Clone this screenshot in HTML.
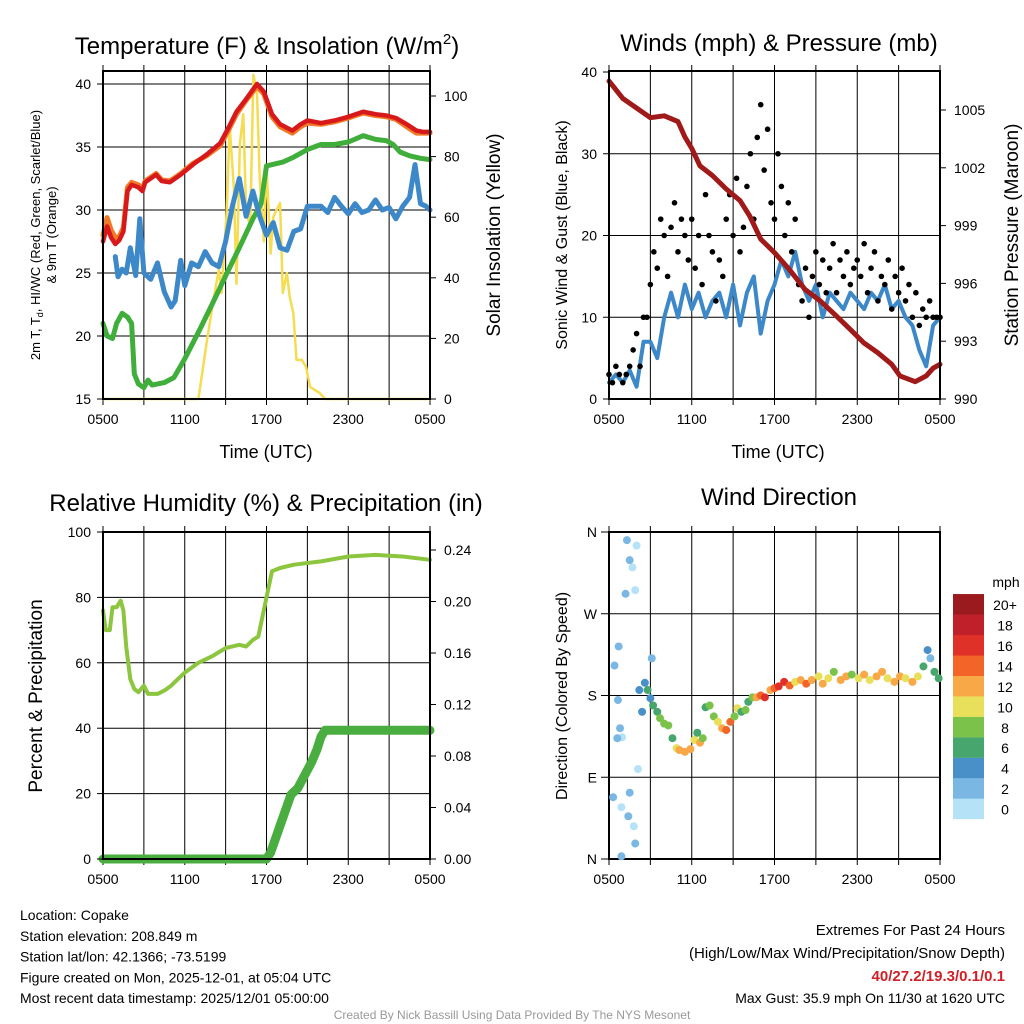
<!DOCTYPE html>
<html><head><meta charset="utf-8">
<style>
html,body{margin:0;padding:0;background:#fff;}
svg{display:block;font-family:"Liberation Sans",sans-serif;}
</style></head>
<body>
<svg id="s" width="1024" height="1024" viewBox="0 0 1024 1024" xmlns="http://www.w3.org/2000/svg"></svg>
<script>
// ---------- DATA ----------
const hourTicks = ["0500","1100","1700","2300","0500"];
// Panel 1: temperature (hours since 0500)
const redT = [0,0.3,0.6,0.9,1.2,1.5,1.8,2.1,2.6,2.9,3.1,3.9,4.3,4.9,5.7,6.6,7.6,8.6,9.2,9.8,10.5,11.3,11.8,12.4,13,13.9,14.5,15,16,17,18,19.1,20,20.8,21.5,22.3,23,23.5,24];
const redV = [27.5,28.7,27.8,27.3,27.6,28.3,31.5,32,31.8,31.5,32.2,32.8,32.3,32.2,32.8,33.6,34.4,35.3,36.5,37.8,38.8,40,39.4,37.6,36.8,36.3,36.8,37.1,36.9,37.1,37.4,37.8,37.6,37.5,37.3,36.8,36.3,36.2,36.2];
const orangeV = [28,29.4,28.4,27.8,27.9,28.6,31.8,32.2,32,31.7,32.3,32.9,32.4,32.3,32.9,33.7,34.3,35.1,36.3,37.6,38.7,39.8,39.2,37.4,36.6,36.1,36.6,36.9,36.8,37,37.3,37.7,37.5,37.4,37.2,36.6,36.1,36.1,36.1];
const greenT = [0,0.3,0.7,1.0,1.4,1.8,2.1,2.3,2.6,3.0,3.3,3.6,4.5,5.2,6,7.1,8,9.1,10,11,11.6,12.0,13.2,14,15,16,17,18,19.1,20,20.8,21.3,21.8,22.5,23.3,24];
const greenV = [21,20,19.8,21,21.8,21.5,21,17,16.2,15.9,16.5,16.1,16.3,16.7,18.2,20.5,22.5,25,27,29.3,30.5,33.5,33.8,34.2,34.8,35.2,35.2,35.4,35.9,35.6,35.5,35.2,34.6,34.3,34.1,34];
const blueT = [0.9,1.1,1.4,1.7,2,2.4,2.7,3,3.5,4,4.5,5,5.3,5.7,6,6.5,7,7.5,8,8.5,9,9.5,10,10.5,11,11.5,12,12.5,13,13.5,14,14.5,15,16,16.5,17,17.5,18,18.5,19,19.5,20,20.5,21,21.5,22,22.5,22.9,23.3,23.7,24];
const blueV = [26.3,24.7,25.3,25,27,24.8,29.3,25,24.5,25.8,23.5,22.3,22.8,26,24,25.8,25.5,26.7,25.8,25.5,27.5,30.3,32.5,29.5,31.5,29.5,28,29,27,26.8,28.3,28.5,30.3,30.3,29.8,31,30.3,29.7,30.5,29.8,30,30.8,30,30.2,29.3,30.3,31,33.6,30.5,30.3,30];
const solarT = [0,7.0,7.6,8.1,8.5,8.7,9.08,9.3,9.6,9.8,10.05,10.3,10.5,10.8,11.04,11.3,11.5,11.8,12.0,12.3,12.5,12.7,13.0,13.2,13.5,13.7,13.97,14.2,14.6,14.9,15.2,15.9,16.3,24];
const solarV = [0,0,18.5,32.7,42.6,35,62,90,70,38,84.5,94,62,57,107,101,73,52,76.6,48,60,62,64.7,35,41.6,33.7,28.4,12.9,12.9,10.6,4,2,0,0];
// Panel 2: wind & pressure
const presT = [0,1,2,3,4,5,5.5,6,6.6,7.5,8.5,9.5,10.2,11,12,13.1,14.2,15.3,16.5,17.5,18.5,19.5,20.5,21.1,22.2,23,23.5,24];
const presV = [1006.5,1005.6,1005.1,1004.6,1004.7,1004.4,1003.6,1003,1002.1,1001.6,1000.9,1000.3,999.5,998.3,997.6,996.7,995.7,995.1,994.3,993.6,992.9,992.4,991.8,991.2,990.9,991.2,991.6,991.8];
const windT = [0,0.5,1,1.5,2,2.5,3,3.5,4,4.5,5,5.5,6,6.5,7,7.5,8,8.5,9,9.5,10,10.5,11,11.5,12,12.5,13,13.5,14,14.5,15,15.5,16,16.5,17,17.5,18,18.5,19,19.5,20,20.5,21,21.5,22,22.5,23,23.5,24];
const windV = [2,3,2,3.5,1.5,7,7,5,10,13,10,14,11,13,10,12,13,10,14,9,13,15,8,12,14,17,15,18,14,12,14,10,13,12,11,13,12,11,13,12,14,11,12,10,9,6,4,9,10];
const gustV = [3,2,4,3,2,3,4,6,8,4,10,10,14,18,16,22,20,15,21,24,18,22,20,17,22,16,20,14,25,20,18,12,17,15,22,25,20,27,18,21,26,30,22,32,36,28,33,24,22,30,26,20,24,18,22,14,12,16,10,15,18,14,17,13,16,19,13,17,15,18,14,16,17,15,19,13,16,18,12,15,14,17,11,15,13,16,12,14,10,13,9,11,10,12,10,10,10];
// Panel 3: RH & precip
const rhT = [0,0.2,0.5,0.7,1,1.3,1.5,1.7,2,2.3,2.6,3,3.3,4,4.5,5,5.5,6,7,8,9,10,10.5,11,11.4,12,12.4,13,14,16,18,20,22,24];
const rhV = [76,70,70,77,77,79,76,65,55,52,51,53,50.5,50.5,51.5,53,55,57,60,62,64.5,65.5,65,67,68,80,88,89,90,91,92.5,93,92.5,91.5];
const prT = [0,12,12.3,12.8,13.3,13.8,14.3,14.8,15.3,15.7,16,16.3,24];
const prV = [0,0,0.005,0.02,0.035,0.05,0.055,0.065,0.075,0.085,0.095,0.1,0.1];
// Panel 4: wind direction [hour, degrees, mph]
const dirT = [1.3,2.0,1.5,1.7,1.2,1.9,0.7,0.4,0.65,0.8,0.95,0.6,2.1,0.3,1.5,0.9,1.4,1.8,1.9,0.9,3.1,2.2,2.6,2.8,3.0,3.2,2.4,3.5,3.7,4.0,4.3,4.6,4.9,5.1,5.5,5.9,6.2,6.4,6.6,6.8,7.0,7.3,7.6,7.9,8.2,8.5,8.8,9.1,9.3,9.6,9.9,10.1,10.4,10.7,11.0,11.3,11.7,12.0,12.3,12.7,13.1,13.5,13.9,14.3,14.7,15.2,15.5,15.9,16.3,16.8,17.2,17.6,18.1,18.5,18.9,19.4,19.8,20.2,20.7,21.1,21.5,22.0,22.4,22.8,23.1,23.3,23.6,23.9];
const dirV = [351,345,329,321,292,296,234,213,175,144,134,133,99,68,73,57,47,36,17,3,221,186,194,186,177,169,162,162,155,149,147,133,122,120,118,121,131,139,128,133,167,169,157,151,144,142,151,157,166,162,164,173,178,178,180,178,186,188,190,195,191,195,197,193,197,201,193,199,206,197,201,203,199,203,197,201,206,199,195,201,199,195,201,212,230,221,206,199];
const dirS = [3,1,3,1,3,1,3,2,3,2,1,3,1,3,3,1,3,1,3,3,3,4,5,6,5,6,4,7,8,9,8,6,11,12,13,12,11,7,12,8,7,8,9,10,12,14,15,8,10,7,8,7,8,12,14,16,13,15,17,16,14,11,13,15,12,10,13,11,9,12,13,9,11,12,10,13,12,11,13,12,10,12,11,7,4,3,6,7];
const cbLabels = ["0","2","4","6","8","10","12","14","16","18","20+"];
const cbColors = ["#b6e2f7","#7ab8e3","#4a90c8","#47a66e","#7bc24b","#e8e05a","#f9a847","#f26428","#e03128","#c0202a","#9b1a1e"];

// ---------- HELPERS ----------
const NS="http://www.w3.org/2000/svg";
const svg=document.getElementById('s');
function mk(tag,attrs,parent){const e=document.createElementNS(NS,tag);for(const k in attrs)e.setAttribute(k,attrs[k]);(parent||svg).appendChild(e);return e;}
function txt(x,y,s,size,anchor,extra){const e=mk('text',Object.assign({x:x,y:y,'font-size':size,'text-anchor':anchor||'middle',fill:'#000'},extra||{}));e.textContent=s;return e;}
function lin(d0,d1,r0,r1){return v=>r0+(v-d0)/(d1-d0)*(r1-r0);}
function poly(ts,vs,xf,yf,color,w,name){const p=ts.map((t,i)=>xf(t).toFixed(1)+','+yf(vs[i]).toFixed(1)).join(' ');const e=mk('polyline',{points:p,fill:'none',stroke:color,'stroke-width':w,'stroke-linejoin':'round','stroke-linecap':'round'});


return e;}
function frame(x0,y0,x1,y1,name,hgrid){
  const g=mk('g',{});
  
  
  for(let i=1;i<8;i++){const x=x0+(x1-x0)*i/8;mk('line',{x1:x,y1:y0,x2:x,y2:y1,stroke:'#000','stroke-width':1},g);}
  hgrid.forEach(y=>mk('line',{x1:x0,y1:y,x2:x1,y2:y,stroke:'#000','stroke-width':1},g));
  for(let i=0;i<=8;i++){const x=x0+(x1-x0)*i/8;mk('line',{x1:x,y1:y0-6,x2:x,y2:y0,stroke:'#000','stroke-width':1},g);mk('line',{x1:x,y1:y1,x2:x,y2:y1+6,stroke:'#000','stroke-width':1},g);}
  hourTicks.forEach((h,i)=>{const t=txt(x0+(x1-x0)*i/4,y1+25,h,14);
    
    });
  return g;
}
function border(x0,y0,x1,y1){mk('rect',{x:x0,y:y0,width:x1-x0,height:y1-y0,fill:'none',stroke:'#000','stroke-width':2});}
function leftTicks(vals,yf,x0,labelFn,name){vals.forEach(v=>{const y=yf(v);mk('line',{x1:x0-6,y1:y,x2:x0,y2:y,stroke:'#000'});const t=txt(x0-12,y+5,labelFn(v),14,'end');
  
  });}
function rightTicks(vals,yf,x1,labelFn,name){vals.forEach(v=>{const y=yf(v);mk('line',{x1:x1,y1:y,x2:x1+6,y2:y,stroke:'#000'});const t=txt(x1+14,y+5,labelFn(v),14,'start');
  
  });}
function rot(x,y,s,size,name){const e=txt(x,y,s,size,'middle',{transform:`rotate(-90 ${x} ${y})`});return e;}

// ---------- PANEL 1 ----------
{
const X0=103,X1=430,Y0=71,Y1=399;
const x=lin(0,24,X0,X1), y=lin(15,40,399,84), ys=lin(0,100,399,96);
frame(X0,Y0,X1,Y1,'temperature-panel',[15,20,25,30,35,40].map(y));
poly(solarT,solarV,x,ys,'#f5dc50',2.5,'solar-insolation-line');
poly(greenT,greenV,x,y,'#3fae3a',5,'dewpoint-line');
poly(blueT,blueV,x,y,'#3d88c8',5,'windchill-line');
poly(redT,orangeV,x,y,'#f27a26',5,'9m-temperature-line');
poly(redT,redV,x,y,'#d7191c',4.5,'2m-temperature-line');
border(X0,Y0,X1,Y1);
leftTicks([15,20,25,30,35,40],y,X0,v=>v,'y-tick-label');
rightTicks([0,20,40,60,80,100],ys,X1,v=>v,'y2-tick-label');
const t=txt(267,54,'',24);t.innerHTML='Temperature (F) &amp; Insolation (W/m<tspan dy="-10" font-size="15">2</tspan><tspan dy="10">)</tspan>';

const xl=txt(266,458,'Time (UTC)',18);
const a=txt(40,235,'',13,'middle',{transform:'rotate(-90 40 235)'});a.innerHTML='2m T, T<tspan dy="3" font-size="9">d</tspan><tspan dy="-3">, HI/WC (Red, Green, Scarlet/Blue)</tspan>';

rot(56,235,'& 9m T (Orange)',13,'y-axis-title-line2');
rot(500,235,'Solar Insolation (Yellow)',19,'y2-axis-title');
}
// ---------- PANEL 2 ----------
{
const X0=609,X1=940,Y0=71,Y1=399;
const x=lin(0,24,X0,X1), y=lin(0,40,399,72), yp=lin(990,1005,399,110);
frame(X0,Y0,X1,Y1,'wind-panel',[10,20,30].map(y));
poly(windT,windV,x,y,'#3d88c8',4,'sonic-wind-line');
gustV.forEach((g,i)=>{const c=mk('circle',{cx:x(i*0.25),cy:y(g),r:2.8,fill:'#000'});
  
  });
poly(presT,presV,x,yp,'#a01a1a',5,'pressure-line');
border(X0,Y0,X1,Y1);
leftTicks([0,10,20,30,40],y,X0,v=>v,'y-tick-label');
rightTicks([990,993,996,999,1002,1005],yp,X1,v=>v,'y2-tick-label');
const t=txt(779,51,'Winds (mph) & Pressure (mb)',24);
const xl=txt(778,458,'Time (UTC)',18);
rot(567,235,'Sonic Wind & Gust (Blue, Black)',16,'y-axis-title');
rot(1018,235,'Station Pressure (Maroon)',19,'y2-axis-title');
}
// ---------- PANEL 3 ----------
{
const X0=103,X1=430,Y0=532,Y1=859;
const x=lin(0,24,X0,X1), y=lin(0,100,859,532), yp=lin(0,0.24,859,550);
frame(X0,Y0,X1,Y1,'humidity-panel',[20,40,60,80].map(y));
poly(rhT,rhV,x,y,'#8cc63f',4,'relative-humidity-line');
poly(prT,prV,x,yp,'#4aad3f',9,'precipitation-line');
border(X0,Y0,X1,Y1);
leftTicks([0,20,40,60,80,100],y,X0,v=>v,'y-tick-label');
rightTicks([0,0.04,0.08,0.12,0.16,0.2,0.24],yp,X1,v=>v.toFixed(2),'y2-tick-label');
const t=txt(266,511,'Relative Humidity (%) & Precipitation (in)',24);
rot(42,696,'Percent & Precipitation',19,'y-axis-title');
}
// ---------- PANEL 4 ----------
{
const X0=609,X1=940,Y0=532,Y1=859;
const x=lin(0,24,X0,X1), y=lin(0,360,859,532);
frame(X0,Y0,X1,Y1,'wind-direction-panel',[90,180,270].map(y));
border(X0,Y0,X1,Y1);
dirT.forEach((t,i)=>{const b=Math.max(0,Math.min(10,Math.floor(dirS[i]/2)));const c=mk('circle',{cx:x(t),cy:y(dirV[i]),r:4,fill:cbColors[b]});
  
  });
[[0,'N'],[90,'E'],[180,'S'],[270,'W'],[360,'N']].forEach(([d,l])=>{const yy=y(d);mk('line',{x1:X0-8,y1:yy,x2:X0,y2:yy,stroke:'#000'});const tt=txt(X0-12,yy+5,l,14,'end');
  });
const t=txt(779,505,'Wind Direction',24);
rot(567,696,'Direction (Colored By Speed)',16,'y-axis-title');
const cb=mk('g',{});
cbColors.forEach((c,i)=>{const yy=819-(i+1)*20.45;mk('rect',{x:953,y:yy,width:31,height:20.6,fill:c},cb);
  const l=txt(1005,yy+16,cbLabels[i],14,'middle');});
const m=txt(1006,587,'mph',14);
}
// ---------- TEXT ----------
["Location: Copake","Station elevation: 208.849 m","Station lat/lon: 42.1366; -73.5199","Figure created on Mon, 2025-12-01, at 05:04 UTC","Most recent data timestamp: 2025/12/01 05:00:00"].forEach((s,i)=>{const t=txt(20,920+i*20.8,s,14,'start');
  });
{const a=txt(1005,935,'Extremes For Past 24 Hours',15,'end');
const b=txt(1005,958,'(High/Low/Max Wind/Precipitation/Snow Depth)',15,'end');
const c=txt(1005,981,'40/27.2/19.3/0.1/0.1',15,'end',{fill:'#d11f26','font-weight':'bold'});
const d=txt(1005,1003,'Max Gust: 35.9 mph On 11/30 at 1620 UTC',14,'end');
const f=txt(512,1019,'Created By Nick Bassill Using Data Provided By The NYS Mesonet',12,'middle',{fill:'#999'});}
</script>
</body></html>
